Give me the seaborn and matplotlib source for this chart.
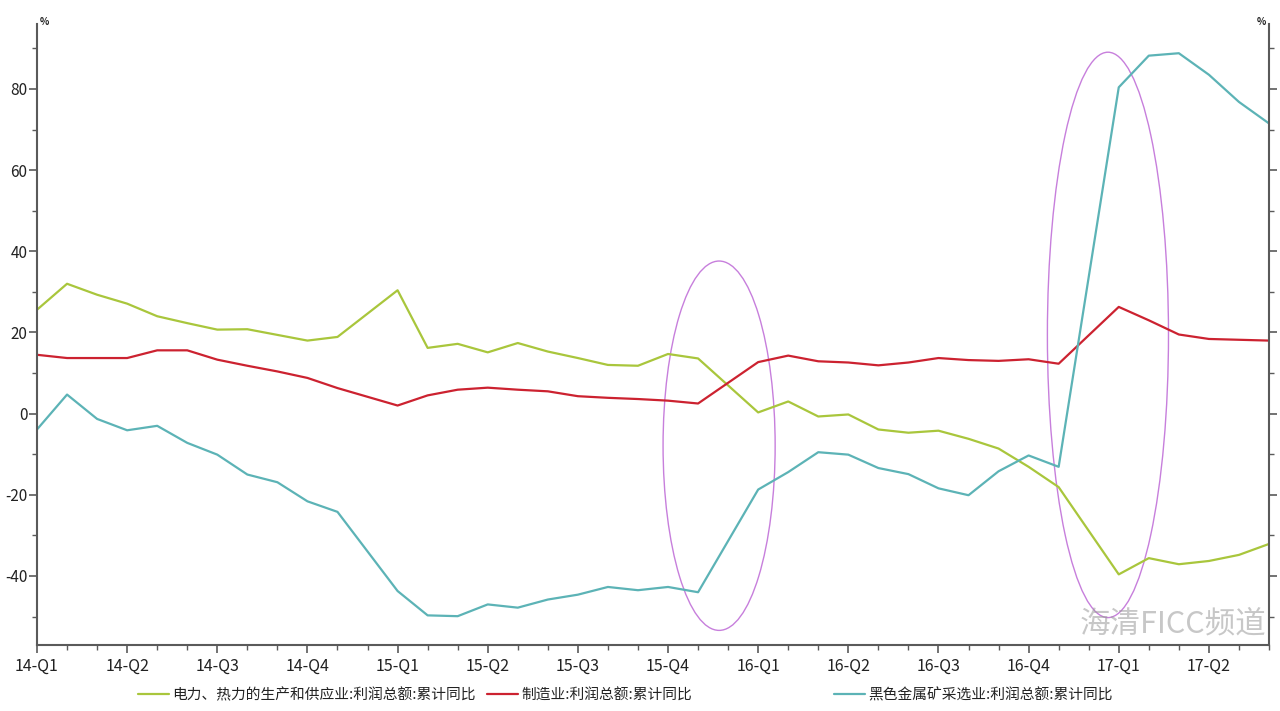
import numpy as np
import pandas as pd
import matplotlib
matplotlib.use("Agg")
import matplotlib.pyplot as plt
from matplotlib.patches import Ellipse
from matplotlib.ticker import MultipleLocator, FixedLocator
import seaborn as sns

# ---------------- data ----------------
periods = ["2014-02", "2014-03", "2014-04", "2014-05", "2014-06", "2014-07", "2014-08", "2014-09",
           "2014-10", "2014-11", "2014-12",
           "2015-02", "2015-03", "2015-04", "2015-05", "2015-06", "2015-07", "2015-08", "2015-09",
           "2015-10", "2015-11", "2015-12",
           "2016-02", "2016-03", "2016-04", "2016-05", "2016-06", "2016-07", "2016-08", "2016-09",
           "2016-10", "2016-11", "2016-12",
           "2017-02", "2017-03", "2017-04", "2017-05", "2017-06", "2017-07"]

power = [25.6, 32.0, 29.3, 27.1, 24.0, 22.3, 20.7, 20.8, 19.4, 18.0, 18.9,
         30.4, 16.2, 17.2, 15.1, 17.4, 15.3, 13.7, 12.0, 11.8, 14.7, 13.6,
         0.3, 3.0, -0.7, -0.2, -3.9, -4.7, -4.2, -6.2, -8.6, -13.1, -18.1,
         -39.6, -35.6, -37.1, -36.3, -34.8, -32.1]

manufacturing = [14.5, 13.7, 13.7, 13.7, 15.6, 15.6, 13.3, 11.8, 10.4, 8.8, 6.3,
                 2.0, 4.5, 5.9, 6.4, 5.9, 5.5, 4.3, 3.9, 3.6, 3.2, 2.5,
                 12.7, 14.3, 12.9, 12.6, 11.9, 12.6, 13.7, 13.2, 13.0, 13.4, 12.3,
                 26.3, 23.0, 19.5, 18.4, 18.2, 18.0]

ferrous = [-3.9, 4.7, -1.3, -4.1, -3.0, -7.2, -10.1, -15.0, -16.9, -21.6, -24.2,
           -43.7, -49.7, -49.9, -47.0, -47.8, -45.8, -44.6, -42.7, -43.5, -42.7, -44.0,
           -18.7, -14.4, -9.5, -10.1, -13.4, -14.9, -18.4, -20.1, -14.2, -10.3, -13.1,
           80.4, 88.2, 88.8, 83.5, 76.8, 71.5]

series_names = ["电力、热力的生产和供应业:利润总额:累计同比",
                "制造业:利润总额:累计同比",
                "黑色金属矿采选业:利润总额:累计同比"]
series_colors = ["#a9c63c", "#cc2230", "#5cb3b6"]

quarter_labels = ["14-Q1", "14-Q2", "14-Q3", "14-Q4", "15-Q1", "15-Q2", "15-Q3", "15-Q4",
                  "16-Q1", "16-Q2", "16-Q3", "16-Q4", "17-Q1", "17-Q2"]

# ---------------- frame ----------------
def month_index(p):
    y, m = p.split("-")
    return (int(y) - 2014) * 12 + int(m) - 2

x = [month_index(p) for p in periods]
frames = []
for name, vals in zip(series_names, [power, manufacturing, ferrous]):
    frames.append(pd.DataFrame({"x": x, "value": vals, "series": name}))
df = pd.concat(frames, ignore_index=True)

sns.set_style("white")
plt.rcParams["font.family"] = ["Noto Sans CJK SC", "DejaVu Sans"]
plt.rcParams["axes.unicode_minus"] = False

fig = plt.figure(figsize=(12.8, 7.11), dpi=100)
ax = fig.add_axes([37 / 1280, 1 - 645 / 711, (1269 - 37) / 1280, (645 - 24) / 711])

sns.lineplot(data=df, x="x", y="value", hue="series", hue_order=series_names,
             palette=series_colors, linewidth=1.6, ax=ax, legend=False, sort=True)

ax.set_xlim(0, 41)
ax.set_ylim(-57, 96)
ax.set_xlabel("")
ax.set_ylabel("")

# ticks
ax.xaxis.set_major_locator(FixedLocator(np.arange(0, 3 * len(quarter_labels), 3)))
ax.set_xticklabels(quarter_labels)
ax.xaxis.set_minor_locator(MultipleLocator(1))
ax.yaxis.set_major_locator(FixedLocator([-40, -20, 0, 20, 40, 60, 80]))
ax.yaxis.set_minor_locator(MultipleLocator(10))

spine_color = "#5a5a5a"
for side in ["left", "right", "bottom"]:
    ax.spines[side].set_visible(True)
    ax.spines[side].set_color(spine_color)
    ax.spines[side].set_linewidth(1.5)
ax.spines["top"].set_visible(False)

ax.tick_params(axis="both", which="major", direction="out", length=6, width=1.2,
               color=spine_color, labelsize=11.5, labelcolor="#222222", pad=3)
ax.tick_params(axis="both", which="minor", direction="out", length=3.5, width=1.0,
               color=spine_color)
ax.tick_params(axis="y", which="both", left=True, right=True, labelleft=True, labelright=False)
ax.tick_params(axis="x", which="both", bottom=True, top=False)
ax.tick_params(axis="y", which="major", pad=1, labelsize=11)

# unit labels
fig.text(40 / 1280, 1 - 22 / 711, "%", fontsize=7, fontweight="bold", color="#222222",
         ha="left", va="center")
fig.text(1266 / 1280, 1 - 22 / 711, "%", fontsize=7, fontweight="bold", color="#222222",
         ha="right", va="center")

# highlight ellipses
ellipse_color = "#c77fdc"
ax.add_patch(Ellipse((22.7, -7.9), 3.73, 91, fill=False, edgecolor=ellipse_color, linewidth=1.0))
ax.add_patch(Ellipse((35.64, 19.4), 4.03, 139.3, fill=False, edgecolor=ellipse_color, linewidth=1.0))

# legends
handles = [plt.Line2D([], [], color=c, linewidth=1.6) for c in series_colors]
leg1 = fig.legend(handles[:2], series_names[:2], loc="center left",
                  bbox_to_anchor=(138 / 1280, 1 - 695 / 711), ncol=2, frameon=False,
                  fontsize=10.6, handlelength=2.1, handletextpad=0.2, columnspacing=0.8,
                  borderaxespad=0, borderpad=0)
leg2 = fig.legend(handles[2:], series_names[2:], loc="center left",
                  bbox_to_anchor=(834 / 1280, 1 - 695 / 711), ncol=1, frameon=False,
                  fontsize=10.6, handlelength=2.1, handletextpad=0.2,
                  borderaxespad=0, borderpad=0)
for leg in (leg1, leg2):
    for t in leg.get_texts():
        t.set_color("#222222")

# watermark (kept just above the axis line so it does not cover tick labels)
fig.text(1266 / 1280, 1 - 624 / 711, "海清FICC频道", fontsize=22, color="#9a9a9a", alpha=0.55,
         ha="right", va="center")

fig.savefig("out.png", dpi=100)
